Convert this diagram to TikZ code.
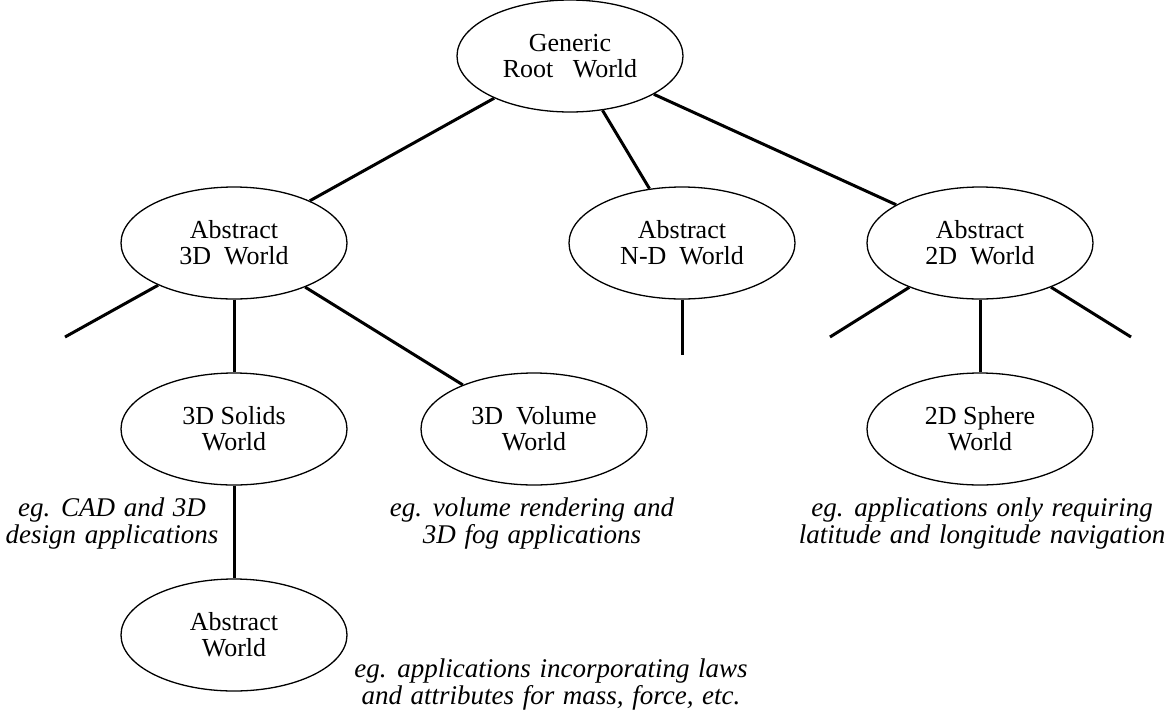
\documentclass[tikz,border=0pt]{standalone}
\usepackage{fontspec}
\setmainfont{Liberation Serif}
\usetikzlibrary{shapes.geometric}
\newcommand{\widespaces}{\spaceskip=0.32em plus 0.1em\relax}
\begin{document}
\begin{tikzpicture}[x=1pt,y=-1pt,
  world/.style={draw, line width=1.3pt, ellipse, minimum width=226pt, minimum height=112pt, inner sep=0pt, align=center, font=\fontsize{26}{26}\selectfont},
  link/.style={line width=3pt},
  note/.style={align=center, font=\fontsize{27}{27}\selectfont\itshape\widespaces}]
\useasboundingbox (0,0) rectangle (1170,710);
\node[world] (root) at (570,56) {Generic\\Root\ \ \ World};
\node[world] (a3d) at (234,243) {Abstract\\3D\ \ World};
\node[world] (nd) at (682,243) {Abstract\\N-D\ \ World};
\node[world] (a2d) at (980,243) {Abstract\\2D\ \ World};
\node[world] (solid) at (234,429) {3D\ Solids\\World};
\node[world] (vol) at (534,429) {3D\ \ Volume\\World};
\node[world] (sph) at (980,429) {2D Sphere\\World};
\node[world] (aw) at (234,635) {Abstract\\World};
\coordinate (s1) at (65,337);
\coordinate (s2) at (682,355);
\coordinate (s3) at (830,337);
\coordinate (s4) at (1131,337);
\draw[link] (root) -- (a3d);
\draw[link] (root) -- (nd);
\draw[link] (root) -- (a2d);
\draw[link] (a3d) -- (s1);
\draw[link] (a3d) -- (solid);
\draw[link] (a3d) -- (vol);
\draw[link] (nd) -- (s2);
\draw[link] (a2d) -- (s3);
\draw[link] (a2d) -- (sph);
\draw[link] (a2d) -- (s4);
\draw[link] (solid) -- (aw);
\node[note] (n1) at (112,523) {eg. CAD and 3D\\design applications};
\node[note] (n2) at (532,523) {eg. volume rendering and\\3D fog applications};
\node[note] (n3) at (982,523) {eg. applications only requiring\\latitude and longitude navigation};
\node[note] (n4) at (551,684) {eg. applications incorporating laws\\and attributes for mass, force, etc.};
\end{tikzpicture}
\end{document}
